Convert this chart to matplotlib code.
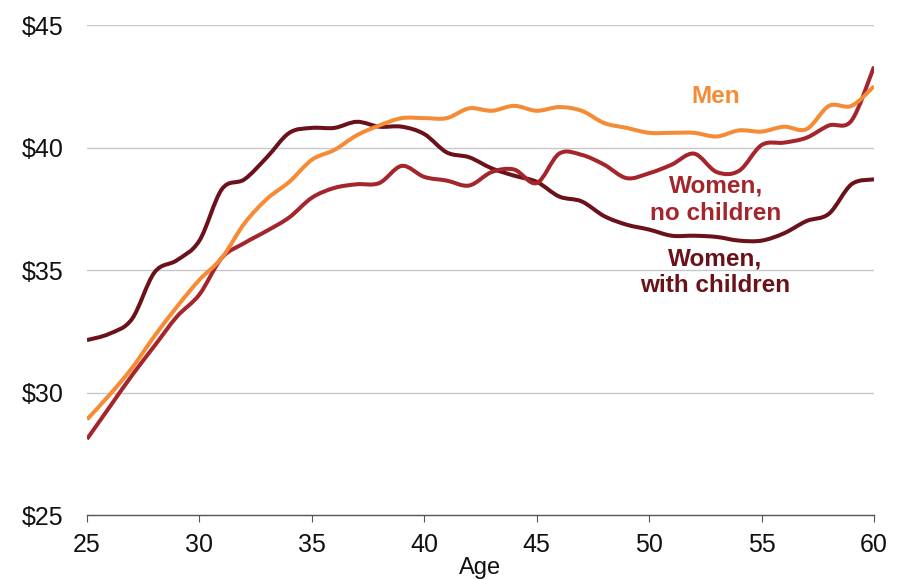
import numpy as np
import matplotlib
matplotlib.use("Agg")
import matplotlib.pyplot as plt
from matplotlib.path import Path
from matplotlib.patches import PathPatch

plt.rcParams["font.family"] = ["Liberation Sans", "DejaVu Sans"]

ages = np.arange(25, 61)

men = [28.9, 29.9, 31.0, 32.3, 33.5, 34.6, 35.5, 36.9, 37.9, 38.6,
       39.5, 39.9, 40.5, 40.9, 41.2, 41.2, 41.2, 41.6, 41.5, 41.7,
       41.5, 41.65, 41.5, 41.0, 40.8, 40.6, 40.6, 40.6, 40.45, 40.7,
       40.65, 40.85, 40.75, 41.7, 41.7, 42.5]

women_no_children = [28.1, 29.4, 30.7, 31.9, 33.1, 34.0, 35.5, 36.1, 36.6, 37.15,
                     37.95, 38.35, 38.5, 38.55, 39.25, 38.8, 38.65, 38.45, 39.0, 39.1,
                     38.55, 39.75, 39.7, 39.3, 38.75, 38.95, 39.3, 39.75, 39.0, 39.05,
                     40.1, 40.2, 40.4, 40.9, 41.1, 43.3]

women_with_children = [32.14, 32.4, 33.0, 34.9, 35.4, 36.2, 38.3, 38.7, 39.6, 40.6,
                       40.8, 40.8, 41.05, 40.85, 40.85, 40.55, 39.8, 39.6, 39.15, 38.85,
                       38.6, 38.0, 37.8, 37.2, 36.85, 36.65, 36.4, 36.4, 36.35, 36.2,
                       36.2, 36.5, 37.0, 37.3, 38.5, 38.7]

y_ticks = [25, 30, 35, 40, 45]
x_ticks = [25, 30, 35, 40, 45, 50, 55, 60]

c_men = "#F58B34"
c_nochild = "#A4262C"
c_child = "#6A1119"


def smooth_line(ax, x, y, color, z):
    # curved path through the yearly points (Catmull-Rom as Bezier segments)
    pts = np.column_stack([x, y]).astype(float)
    verts = [pts[0]]
    codes = [Path.MOVETO]
    n = len(pts)
    for i in range(n - 1):
        p0 = pts[max(i - 1, 0)]
        p1 = pts[i]
        p2 = pts[i + 1]
        p3 = pts[min(i + 2, n - 1)]
        verts += [p1 + (p2 - p0) / 6, p2 - (p3 - p1) / 6, p2]
        codes += [Path.CURVE4] * 3
    patch = PathPatch(Path(verts, codes), facecolor="none", edgecolor=color,
                      lw=2.9, capstyle="butt", joinstyle="round", zorder=z)
    ax.add_patch(patch)


fig = plt.figure(figsize=(9.06, 5.79), dpi=100)
ax = fig.add_axes([0.096, 0.1105, 0.8687, 0.8463])

smooth_line(ax, ages, women_with_children, c_child, 3)
smooth_line(ax, ages, women_no_children, c_nochild, 4)
smooth_line(ax, ages, men, c_men, 5)

ax.set_xlim(25, 60)
ax.set_ylim(25, 45)
ax.set_yticks(y_ticks)
ax.set_yticklabels([f"${v}" for v in y_ticks])
ax.set_xticks(x_ticks)

for v in y_ticks[1:]:
    ax.axhline(v, color="#c8c8c8", lw=1.0, zorder=1)

for s in ["top", "right", "left"]:
    ax.spines[s].set_visible(False)
ax.spines["bottom"].set_color("#555555")
ax.spines["bottom"].set_linewidth(1.0)

ax.tick_params(axis="y", length=0, pad=17, labelsize=18, colors="#111111")
ax.tick_params(axis="x", length=5, width=0.8, color="#555555", pad=8, labelsize=18, labelcolor="#111111")
ax.set_xlabel("Age", fontsize=17, labelpad=0, color="#111111")

ax.text(52.97, 42.1, "Men", color=c_men, fontsize=17.5, fontweight="bold", ha="center", va="center")
ax.text(52.97, 37.86, "Women,\nno children", color=c_nochild, fontsize=17.5, fontweight="bold",
        ha="center", va="center", linespacing=1.25)
ax.text(52.95, 34.92, "Women,\nwith children", color=c_child, fontsize=17.5, fontweight="bold",
        ha="center", va="center", linespacing=1.2)

fig.savefig("out.png", dpi=100)
